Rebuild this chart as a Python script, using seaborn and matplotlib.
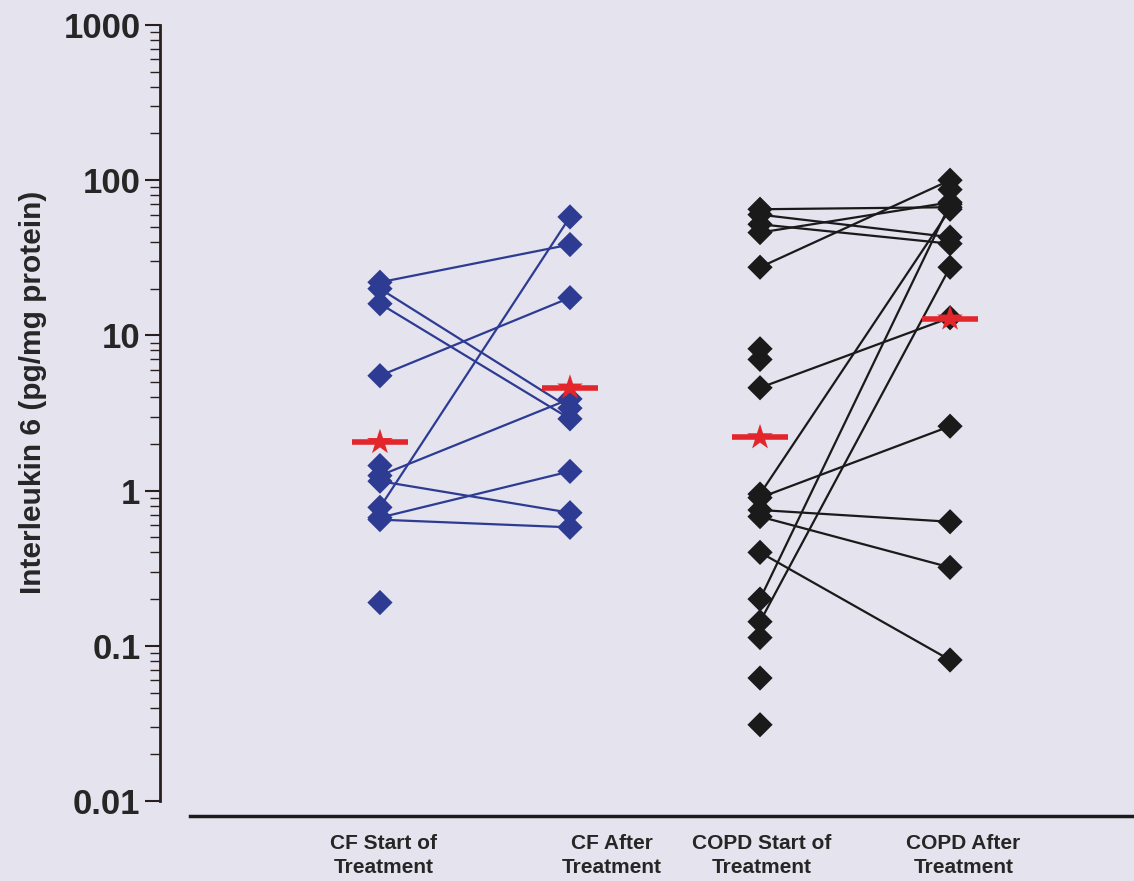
import numpy as np
import pandas as pd
import matplotlib.pyplot as plt
import seaborn as sns
from matplotlib.ticker import FixedLocator, LogLocator, NullFormatter

# categories on the x axis
categories = ['CF Start of\nTreatment', 'CF After\nTreatment',
              'COPD Start of\nTreatment', 'COPD After\nTreatment']

# CF patients: paired start / after values (pg/mg protein)
cf_start_paired = [22, 20, 16, 5.5, 1.25, 1.15, 0.78, 0.67, 0.65]
cf_after_paired = [38.5, 3.4, 2.9, 17.5, 3.9, 0.72, 58, 1.33, 0.58]
cf_start_only = [1.45, 0.19]

# COPD patients
copd_start_paired = [65, 60, 52, 46, 27.5, 4.6, 0.95, 0.2, 0.143, 0.9, 0.75, 0.68, 0.4]
copd_after_paired = [67, 43, 39, 72, 100, 13, 65, 70, 27.5, 2.6, 0.63, 0.32, 0.081]
copd_start_only = [8.2, 7.0, 0.113, 0.062, 0.031]
copd_after_only = [87]

# group means (red stars)
cf_means = [2.05, 4.6]
copd_means = [2.2, 12.8]

navy = '#2d3b93'
black = '#1a1a1a'
red = '#e3262b'
bg = '#e4e3ee'

sns.set_style('white')
plt.rcParams['font.family'] = ['Liberation Sans', 'DejaVu Sans']

# build long tables
line_rows = []
for i, (a, b) in enumerate(zip(cf_start_paired, cf_after_paired)):
    line_rows += [('cf%d' % i, 0, a, 'CF'), ('cf%d' % i, 1, b, 'CF')]
for i, (a, b) in enumerate(zip(copd_start_paired, copd_after_paired)):
    line_rows += [('copd%d' % i, 2, a, 'COPD'), ('copd%d' % i, 3, b, 'COPD')]
lines = pd.DataFrame(line_rows, columns=['pair', 'pos', 'value', 'group'])

pt_rows = [(0, v, 'CF') for v in cf_start_paired + cf_start_only]
pt_rows += [(1, v, 'CF') for v in cf_after_paired]
pt_rows += [(2, v, 'COPD') for v in copd_start_paired + copd_start_only]
pt_rows += [(3, v, 'COPD') for v in copd_after_paired + copd_after_only]
points = pd.DataFrame(pt_rows, columns=['pos', 'value', 'group'])

means = pd.DataFrame({'pos': [0, 1, 2, 3], 'value': cf_means + copd_means})

fig = plt.figure(figsize=(11.34, 8.81), dpi=100)
fig.patch.set_facecolor(bg)
ax = fig.add_axes([0.141, 0.0908, 0.859, 0.8808])
ax.set_facecolor(bg)
ax.set_yscale('log')

palette = {'CF': navy, 'COPD': black}
sns.lineplot(data=lines, x='pos', y='value', units='pair', estimator=None,
             hue='group', palette=palette, sort=False, linewidth=1.6,
             legend=False, ax=ax, zorder=2)
sns.scatterplot(data=points, x='pos', y='value', hue='group', palette=palette,
                marker='D', s=165, edgecolor='none', legend=False, ax=ax, zorder=3)

ax.hlines(means['value'], means['pos'] - 0.145, means['pos'] + 0.145,
          color=red, linewidth=4, zorder=4)
sns.scatterplot(data=means, x='pos', y='value', marker='*', s=380, color=red,
                edgecolor='none', legend=False, ax=ax, zorder=5)

ax.set_xlim(-1.158, 3.968)
ax.set_ylim(0.01, 1000)
ax.set_xlabel('')

# spines first (moving a spine resets the ticks)
for side in ['top', 'right']:
    ax.spines[side].set_visible(False)
ax.spines['left'].set_color('#2a1f1f')
ax.spines['left'].set_linewidth(2)
ax.spines['bottom'].set_position(('outward', 11))
ax.spines['bottom'].set_bounds(-1.0, 3.968)
ax.spines['bottom'].set_color('#1f1a1a')
ax.spines['bottom'].set_linewidth(2.5)

# y axis
ax.yaxis.set_major_locator(FixedLocator([0.01, 0.1, 1, 10, 100, 1000]))
ax.yaxis.set_minor_locator(LogLocator(base=10, subs=np.arange(2, 10)))
ax.yaxis.set_minor_formatter(NullFormatter())
ax.tick_params(axis='y', which='major', direction='out', length=11,
               width=1.5, color='#2a1f1f', pad=3, left=True)
ax.tick_params(axis='y', which='minor', direction='out', length=7,
               width=1.0, color='#2a1f1f', left=True)
ax.set_yticklabels(['0.01', '0.1', '1', '10', '100', '1000'],
                   fontsize=25, fontweight='bold')
ax.set_ylabel('Interleukin 6 (pg/mg protein)', fontsize=21.5, fontweight='bold')
ax.yaxis.set_label_coords(-0.116, 0.527)

# x axis
ax.tick_params(axis='x', length=0, pad=13)
ax.set_xticks([0.02, 1.22, 2.01, 3.07])
ax.set_xticklabels(categories, fontsize=15, fontweight='bold', linespacing=1.3)

plt.savefig('out.png', dpi=100, facecolor=bg)
